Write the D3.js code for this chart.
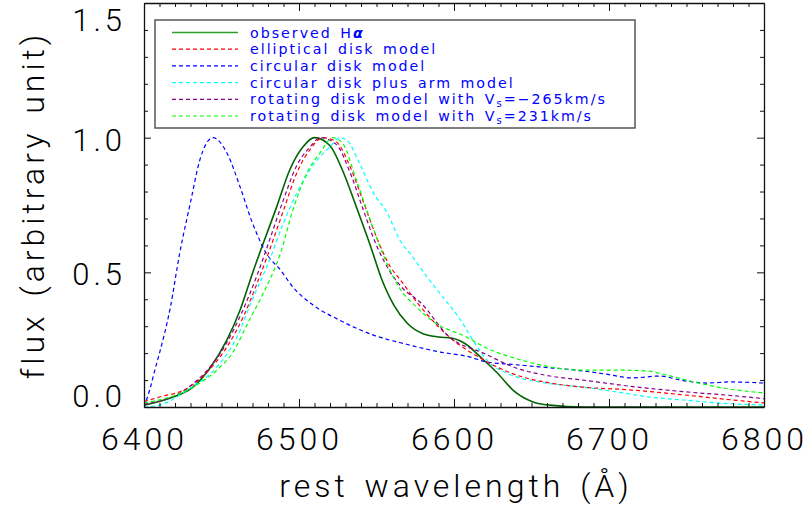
<!DOCTYPE html>
<html>
<head>
<meta charset="utf-8">
<script src="https://cdn.jsdelivr.net/npm/d3@7"></script>
<style>
  body { margin: 0; background: #fff; }
  svg { display: block; }
  text { font-family: "DejaVu Sans", sans-serif; }
  .ax { font-family: Roboto, "DejaVu Sans", sans-serif; font-weight: 300; }
</style>
</head>
<body>
<svg id="chart" width="810" height="515"></svg>
<script>
// ---------- data ----------
const obsWave = [6400, 6418.7, 6431.6, 6442.6, 6453.5, 6462, 6470, 6477, 6485.6, 6494, 6502.6, 6510, 6520, 6528, 6537, 6546, 6553, 6561, 6570, 6580, 6590, 6599, 6608, 6617, 6628, 6638, 6651, 6662, 6684, 6740, 6800];
const obsFlux = [0.007, 0.037, 0.074, 0.145, 0.249, 0.36, 0.497, 0.609, 0.743, 0.88, 0.966, 1.0, 0.97, 0.88, 0.743, 0.6, 0.48, 0.38, 0.31, 0.272, 0.26, 0.255, 0.232, 0.186, 0.126, 0.063, 0.019, 0.007, 0.0, 0.0, 0.0];

const ellWave = [6400, 6410, 6428, 6440, 6453.5, 6464, 6473, 6481, 6490, 6498.5, 6507, 6515.5, 6524, 6533, 6541, 6550, 6559, 6565, 6578, 6597, 6619, 6640, 6662, 6683, 6715, 6748, 6780, 6800];
const ellFlux = [0.02, 0.037, 0.07, 0.126, 0.223, 0.334, 0.46, 0.583, 0.73, 0.868, 0.955, 1.0, 0.985, 0.892, 0.77, 0.631, 0.52, 0.475, 0.375, 0.26, 0.175, 0.119, 0.089, 0.074, 0.063, 0.045, 0.026, 0.015];

const cirWave = [6400, 6404, 6407, 6410, 6417, 6423, 6430, 6436, 6444.5, 6453.5, 6462, 6470, 6479, 6488, 6496, 6509, 6526, 6548, 6570, 6591, 6610, 6621, 6634, 6655, 6683, 6698, 6715, 6733, 6746, 6763, 6778, 6800];
const cirFlux = [0.0, 0.07, 0.137, 0.2, 0.37, 0.57, 0.76, 0.917, 1.0, 0.943, 0.817, 0.683, 0.57, 0.509, 0.446, 0.379, 0.323, 0.267, 0.232, 0.204, 0.186, 0.167, 0.16, 0.149, 0.134, 0.122, 0.108, 0.115, 0.1, 0.089, 0.093, 0.089];

const armWave = [6400, 6410, 6428, 6447, 6460, 6470, 6481, 6490, 6500.6, 6511.6, 6520, 6526.5, 6531, 6539, 6548, 6557, 6565, 6573, 6583, 6594, 6604, 6612, 6621, 6634, 6655, 6683, 6705, 6726, 6748, 6770, 6800];
const armFlux = [0.0, 0.007, 0.063, 0.149, 0.26, 0.4, 0.546, 0.683, 0.817, 0.917, 0.966, 1.0, 0.99, 0.905, 0.795, 0.72, 0.62, 0.56, 0.48, 0.4, 0.325, 0.25, 0.175, 0.126, 0.093, 0.074, 0.056, 0.037, 0.026, 0.015, 0.007];

const rotNWave = [6400, 6428, 6453, 6473, 6481, 6490, 6498, 6507, 6514, 6524, 6533, 6541, 6550, 6559, 6567, 6578, 6597, 6619, 6640, 6662, 6683, 6715, 6748, 6780, 6800];
const rotNFlux = [0.01, 0.07, 0.235, 0.49, 0.62, 0.77, 0.89, 0.965, 1.0, 0.975, 0.87, 0.74, 0.6, 0.5, 0.44, 0.39, 0.26, 0.2, 0.145, 0.115, 0.1, 0.076, 0.057, 0.042, 0.031];

const rotPWave = [6400, 6428, 6447, 6457, 6468, 6477, 6488, 6496, 6505, 6513.5, 6522, 6528, 6537, 6546, 6554, 6565, 6576, 6587, 6608, 6621, 6643, 6662, 6683, 6705, 6724, 6737, 6750, 6770, 6800];
const rotPFlux = [0.015, 0.063, 0.137, 0.2, 0.323, 0.423, 0.57, 0.73, 0.868, 0.943, 1.0, 0.98, 0.843, 0.694, 0.57, 0.44, 0.37, 0.316, 0.26, 0.219, 0.175, 0.149, 0.137, 0.137, 0.134, 0.119, 0.1, 0.074, 0.052];

const xMajorTicks = [6400, 6500, 6600, 6700, 6800];
const yMajorTicks = [0.0, 0.5, 1.0, 1.5];
const seriesNames = ["observed Hα", "elliptical disk model", "circular disk model", "circular disk plus arm model", "rotating disk model with Vs=−265km/s", "rotating disk model with Vs=231km/s"];

// ---------- layout ----------
const svg = d3.select("#chart");
const L = 144, R = 764, T = 3, B = 407;
const x = d3.scaleLinear().domain([6400, 6800]).range([L, R]);
const y = d3.scaleLinear().domain([0, 1.5]).range([B, T]);

const series = [
  { w: obsWave, f: obsFlux, color: "#006400", dash: null, width: 1.6 },
  { w: ellWave, f: ellFlux, color: "#ff0000", dash: "4,3", width: 1.2 },
  { w: cirWave, f: cirFlux, color: "#0000ff", dash: "4,3", width: 1.2 },
  { w: armWave, f: armFlux, color: "#00ffff", dash: "4,3", width: 1.2 },
  { w: rotNWave, f: rotNFlux, color: "#8b008b", dash: "4,3", width: 1.2 },
  { w: rotPWave, f: rotPFlux, color: "#00ff00", dash: "4,3", width: 1.2 }
];

svg.append("defs").append("clipPath").attr("id", "clip")
  .append("rect").attr("x", L).attr("y", T).attr("width", R - L).attr("height", B - T + 1);

const line = d3.line().x(d => x(d[0])).y(d => y(d[1])).curve(d3.curveMonotoneX);
const plotG = svg.append("g").attr("clip-path", "url(#clip)");
const order = [0, 2, 3, 1, 4, 5];
order.forEach(i => {
  const s = series[i];
  plotG.append("path")
    .attr("d", line(s.w.map((w, k) => [w, s.f[k]])))
    .attr("fill", "none")
    .attr("stroke", s.color)
    .attr("stroke-width", s.width)
    .attr("stroke-dasharray", s.dash);
});

// ---------- axes ----------
const axisColor = "#111";
const xMinor = d3.range(6400, 6801, 10).filter(v => v % 100 !== 0);
const yMinor = d3.range(0, 16).map(v => v / 10).filter(v => Math.round(v * 10) % 5 !== 0);

function styleAxis(g) {
  g.select(".domain").attr("stroke", axisColor).attr("stroke-width", 1.3);
  g.selectAll(".tick line").attr("stroke", axisColor).attr("stroke-width", 1);
}

// bottom
const xb = svg.append("g").attr("transform", `translate(0,${B})`)
  .call(d3.axisBottom(x).tickValues(xMajorTicks).tickSizeInner(-8).tickSizeOuter(0).tickPadding(20).tickFormat(d3.format("d")));
styleAxis(xb);
xb.selectAll("text").attr("class", "ax").attr("font-size", 32).attr("fill", "#000").attr("letter-spacing", 4).attr("dy", "0.71em");
svg.append("g").attr("transform", `translate(0,${B})`)
  .call(d3.axisBottom(x).tickValues(xMinor).tickSizeInner(-4).tickSizeOuter(0).tickFormat(""))
  .call(g => { g.select(".domain").remove(); g.selectAll(".tick line").attr("stroke", axisColor); });
// top
const xt = svg.append("g").attr("transform", `translate(0,${T})`)
  .call(d3.axisTop(x).tickValues(xMajorTicks).tickSizeInner(-8).tickSizeOuter(0).tickFormat(""));
styleAxis(xt);
svg.append("g").attr("transform", `translate(0,${T})`)
  .call(d3.axisTop(x).tickValues(xMinor).tickSizeInner(-4).tickSizeOuter(0).tickFormat(""))
  .call(g => { g.select(".domain").remove(); g.selectAll(".tick line").attr("stroke", axisColor); });
// left
const yl = svg.append("g").attr("transform", `translate(${L},0)`)
  .call(d3.axisLeft(y).tickValues(yMajorTicks).tickSizeInner(-7).tickSizeOuter(0).tickPadding(18).tickFormat(d3.format(".1f")));
styleAxis(yl);
yl.selectAll("text").attr("class", "ax").attr("font-size", 31).attr("fill", "#000").attr("letter-spacing", 4)
  .attr("dy", d => d === 0 ? "-0.02em" : (d === 1.5 ? "0.9em" : "0.40em"));
svg.append("g").attr("transform", `translate(${L},0)`)
  .call(d3.axisLeft(y).tickValues(yMinor).tickSizeInner(-4).tickSizeOuter(0).tickFormat(""))
  .call(g => { g.select(".domain").remove(); g.selectAll(".tick line").attr("stroke", axisColor); });
// right
const yr = svg.append("g").attr("transform", `translate(${R},0)`)
  .call(d3.axisRight(y).tickValues(yMajorTicks).tickSizeInner(-7).tickSizeOuter(0).tickFormat(""));
styleAxis(yr);
svg.append("g").attr("transform", `translate(${R},0)`)
  .call(d3.axisRight(y).tickValues(yMinor).tickSizeInner(-4).tickSizeOuter(0).tickFormat(""))
  .call(g => { g.select(".domain").remove(); g.selectAll(".tick line").attr("stroke", axisColor); });

// axis titles
svg.append("text").attr("class", "ax").attr("x", (L + R) / 2 + 2).attr("y", 497).attr("text-anchor", "middle")
  .attr("font-size", 32).attr("letter-spacing", 4).attr("word-spacing", 4).attr("fill", "#000")
  .text("rest wavelength (Å)");
svg.append("text").attr("class", "ax").attr("transform", `translate(44,${(T + B) / 2}) rotate(-90)`).attr("text-anchor", "middle")
  .attr("font-size", 32).attr("letter-spacing", 4).attr("word-spacing", 4).attr("fill", "#000")
  .text("flux (arbitrary unit)");

// ---------- legend ----------
const lg = svg.append("g");
lg.append("rect").attr("x", 155).attr("y", 20).attr("width", 480).attr("height", 108)
  .attr("fill", "#fff").attr("stroke", "#555").attr("stroke-width", 1.5);
seriesNames.forEach((name, i) => {
  const s = series[i];
  const yy = 32.5 + i * 16.7;
  lg.append("line").attr("x1", 172).attr("x2", 238).attr("y1", yy).attr("y2", yy)
    .attr("stroke", i === 0 ? "#2e9e2e" : s.color).attr("stroke-width", s.width).attr("stroke-dasharray", s.dash);
  const t = lg.append("text").attr("x", 250).attr("y", yy + 5).attr("font-size", 14.2)
    .attr("letter-spacing", 2).attr("word-spacing", 2).attr("fill", "#0000ff");
  if (i === 0) {
    t.append("tspan").text("observed H");
    t.append("tspan").attr("font-style", "italic").attr("font-weight", "bold").text("α");
  } else if (i >= 4) {
    const parts = name.split("Vs");
    t.append("tspan").text(parts[0] + "V");
    t.append("tspan").attr("font-size", 10).attr("dy", 3).text("s");
    t.append("tspan").attr("dy", -3).text(parts[1]);
  } else {
    t.text(name);
  }
});
</script>
</body>
</html>
